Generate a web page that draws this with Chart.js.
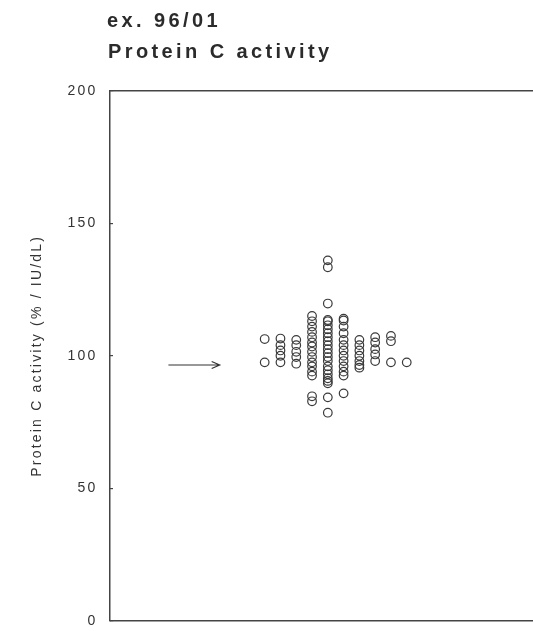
<!DOCTYPE html>
<html><head><meta charset="utf-8">
<style>html,body{margin:0;padding:0;background:#fff;}#wrap{width:533px;height:631px;position:relative;}</style>
<script src="https://cdn.jsdelivr.net/npm/chart.js@4.4.1/dist/chart.umd.min.js"></script>
</head><body><div id="wrap"><canvas id="c" width="533" height="631"></canvas></div>
<script>
// ---- data ----
const titleLines = ['ex. 96/01', 'Protein C activity'];
const yAxisTitle = 'Protein C activity (% / IU/dL)';
const yTicks = [0, 50, 100, 150, 200];
const columnPositions = [1, 2, 3, 4, 5, 6, 7, 8, 9, 10];
const col1 = [106.3, 97.5];
const col2 = [106.5, 104, 102, 100, 97.5];
const col3 = [106, 104, 101.5, 99.5, 97];
const col4 = [115, 113, 111, 109, 107, 105, 103.5, 101.5, 99.5, 97.5, 96, 94, 92.5, 84.7, 82.8];
const col5 = [136, 133.4, 119.7, 113.5, 113, 111.5, 110, 108.5, 107, 105.5, 104, 102.5, 101, 99.5, 98, 96, 94.5, 93, 91.5, 90.5, 89.6, 84.3, 78.5];
const col6 = [114, 113.3, 111, 108.5, 106, 104, 102, 100, 98, 96, 94, 92.5, 85.8];
const col7 = [106, 104, 102, 100, 98, 96.5, 95.5];
const col8 = [107, 105, 102.5, 100.5, 98];
const col9 = [107.5, 105.5, 97.5];
const col10 = [97.5];
const columnValues = [col1, col2, col3, col4, col5, col6, col7, col8, col9, col10];
const targetValue = 96.5;

const points = [];
columnValues.forEach((vals, i) => vals.forEach(v => points.push({x: columnPositions[i], y: v})));

const FONT = '"Liberation Sans", Arial, Helvetica, sans-serif';

const spacingPlugin = {
  id: 'spacing',
  beforeDraw(chart) { chart.ctx.letterSpacing = '2.2px'; }
};

const framePlugin = {
  id: 'frame',
  afterDraw(chart) {
    const ctx = chart.ctx, a = chart.chartArea;
    const xs = chart.scales.x, ys = chart.scales.y;
    ctx.save();
    ctx.strokeStyle = '#444';
    ctx.lineWidth = 1.5;
    ctx.beginPath();
    ctx.moveTo(a.left, a.top); ctx.lineTo(a.right, a.top);
    ctx.moveTo(a.left, a.bottom); ctx.lineTo(a.right, a.bottom);
    ctx.stroke();
    // arrow pointing at target value
    const y = ys.getPixelForValue(targetValue);
    const x1 = xs.getPixelForValue(-5.1), x2 = xs.getPixelForValue(-1.85);
    ctx.strokeStyle = '#333';
    ctx.lineWidth = 1.2;
    ctx.beginPath();
    ctx.moveTo(x1, y); ctx.lineTo(x2, y);
    ctx.moveTo(x2 - 8, y - 3.5); ctx.lineTo(x2, y); ctx.lineTo(x2 - 8, y + 3.5);
    ctx.stroke();
    // title
    ctx.letterSpacing = '3.4px';
    ctx.fillStyle = '#2b2b2b';
    ctx.font = 'bold 20px ' + FONT;
    ctx.textAlign = 'left';
    ctx.textBaseline = 'alphabetic';
    ctx.fillText(titleLines[0], 107, 27);
    ctx.fillText(titleLines[1], 108, 58);
    ctx.restore();
  }
};

new Chart(document.getElementById('c'), {
  type: 'scatter',
  data: { datasets: [{
    data: points,
    pointRadius: 4.3, pointHoverRadius: 4.3,
    borderColor: '#3a3a3a', borderWidth: 1.2,
    backgroundColor: 'rgba(0,0,0,0)', pointStyle: 'circle', clip: false
  }]},
  options: {
    responsive: false, animation: false, devicePixelRatio: 1,
    layout: { autoPadding: false, padding: { top: 90.8, bottom: 10.3, left: 0, right: 0 } },
    plugins: { legend: {display: false}, tooltip: {enabled: false}, title: {display: false} },
    scales: {
      x: {
        type: 'linear', min: -8.8, max: 18, display: false
      },
      y: {
        min: 0, max: 200,
        afterBuildTicks: s => { s.ticks = yTicks.map(v => ({value: v})); },
        ticks: { color: '#333', font: { family: FONT, size: 14 }, padding: 15.5 },
        grid: { drawOnChartArea: false, tickLength: -3, color: '#444', lineWidth: 1.2 },
        border: { display: true, color: '#444', width: 1.5 },
        title: { display: true, text: yAxisTitle, color: '#333', font: { family: FONT, size: 14 }, padding: { top: 29, bottom: 0 } },
        afterFit: s => { s.width = 110; s.paddingTop = 0; s.paddingBottom = 0; }
      }
    }
  },
  plugins: [spacingPlugin, framePlugin]
});
</script></body></html>
